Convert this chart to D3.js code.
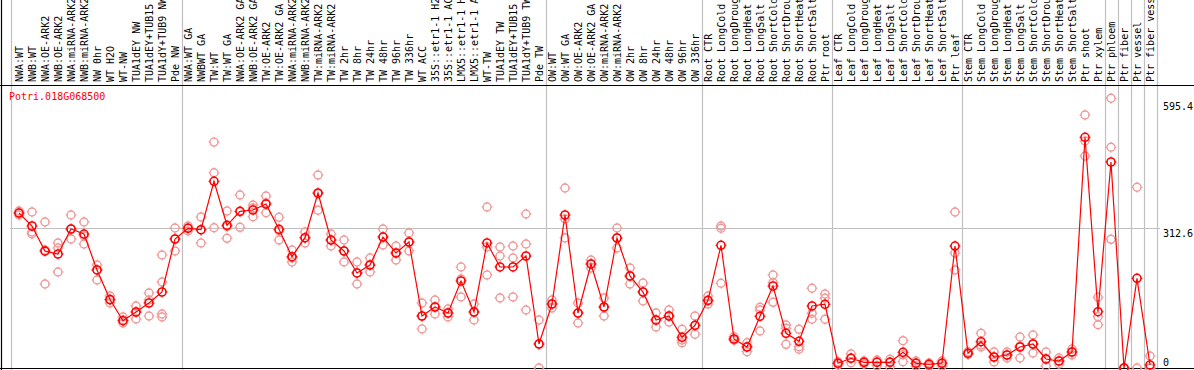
<!DOCTYPE html>
<html><head><meta charset="utf-8">
<script src="https://cdn.jsdelivr.net/npm/d3@7"></script>
<style>body{margin:0;background:#fff;overflow:hidden}svg{display:block}text{font-family:"DejaVu Sans Mono",monospace;font-size:10px}</style>
</head><body><svg id="c" width="1194" height="370"></svg>
<script>
const geneName = "Potri.018G068500";
const categories = ["NWA:WT","NWB:WT","NWA:OE-ARK2","NWB:OE-ARK2","NWA:miRNA-ARK2","NWB:miRNA-ARK2","NW 0hr","WT H2O","WT-NW","TUA1dEY NW","TUA1dEY+TUB15 NW","TUA1dY+TUB9 NW","Pde NW","NWA:WT GA","NWBWT GA","TW:WT","TW:WT GA","NWA:OE-ARK2 GA","NWB:OE-ARK2 GA","TW:OE-ARK2","TW:OE-ARK2 GA","NWA:miRNA-ARK2","NWB:miRNA-ARK2","TW:miRNA-ARK2","TW:miRNA-ARK2","TW 2hr","TW 8hr","TW 24hr","TW 48hr","TW 96hr","TW 336hr","WT ACC","35S::etr1-1 H2O","35S::etr1-1 ACC","LMX5::etr1-1 H2O","LMX5::etr1-1 ACC","WT-TW","TUA1dEY TW","TUA1dEY+TUB15 TW","TUA1dY+TUB9 TW","Pde TW","OW:WT","OW:WT GA","OW:OE-ARK2","OW:OE-ARK2 GA","OW:miRNA-ARK2","OW:miRNA-ARK2","OW 2hr","OW 8hr","OW 24hr","OW 48hr","OW 96hr","OW 336hr","Root CTR","Root LongCold","Root LongDrought","Root LongHeat","Root LongSalt","Root ShortCold","Root ShortDrought","Root ShortHeat","Root ShortSalt","Ptr root","Leaf CTR","Leaf LongCold","Leaf LongDrought","Leaf LongHeat","Leaf LongSalt","Leaf ShortCold","Leaf ShortDrought","Leaf ShortHeat","Leaf ShortSalt","Ptr leaf","Stem CTR","Stem LongCold","Stem LongDrought","Stem LongHeat","Stem LongSalt","Stem ShortCold","Stem ShortDrought","Stem ShortHeat","Stem ShortSalt","Ptr shoot","Ptr xylem","Ptr phloem","Ptr fiber","Ptr vessel","Ptr fiber vessel"];
const meanValues = [346.1,317.1,261,254.6,310.4,299.2,219,153.0,105.6,125.1,145.2,169.7,288.1,312.0,308.9,416.9,318.7,349.9,352.8,366.2,309.7,248.6,291.0,390.8,285.8,261.3,212.2,230.0,292.5,256.8,281.4,116.1,136.2,122.8,194.3,125.1,279.2,225.6,225.6,250.1,53.6,142.9,341.7,122.8,232.3,136.2,290.3,205.5,169.7,107.2,116.1,68.6,95.4,151.2,274.0,64.8,46.9,115.5,183.1,77.5,59.6,138.5,142.3,10.5,21.7,12.7,12.7,12.7,35.1,10.5,8.3,10.5,272.4,32.8,58.7,24.6,29.0,46.9,53.6,20.1,15.6,35.7,515.2,125.7,460.0,0,200.3,6.7];
const replicateValues = [[350.6,346.1,341.7],[348.4,303.7,299.2],[326.0,263.5,187.6],[279.2,268.0,214.4],[341.7,310.4,288.1],[326.0,294.8,276.9],[230.0,218.8,196.5],[160.8,151.8,145.2],[113.9,107.2,100.5],[138.5,125.1,109.4],[167.5,151.8,116.1],[252.4,192.1,120.6,113.9],[312.6,288.1,261.3],[317.1,312.6,305.9],[337.2,308.1,279.2],[504.5,436.0,313.3],[350.6,315.6,289.6],[386.3,349.1,314.2],[364.0,357.3,337.9],[384.1,368.5,346.8],[336.5,306.6,285.8],[263.5,245.6,236.7],[303.7,290.3,279.2],[431.0,389.3,352.2],[299.2,285.8,272.4],[285.8,261.3,236.7],[236.7,212.2,187.6],[245.6,230.0,214.4],[310.4,292.5,274.7],[272.4,256.8,241.2],[301.5,281.4,261.3],[145.2,116.1,87.1],[151.9,136.2,120.6],[131.8,122.8,113.9],[225.6,198.8,158.6],[142.9,125.1,107.2],[359.5,270.2,207.7],[270.2,250.1,156.3],[272.4,245.6,158.6],[343.9,276.9,129.5],[107.2,53.6,0],[151.9,142.9,134.0],[402.0,332.8,290.3],[145.2,122.8,100.5],[241.2,232.3,223.3],[156.3,136.2,116.1],[312.6,290.3,268.0],[223.3,205.5,187.6],[189.8,169.7,149.6],[122.8,107.2,91.6],[129.5,116.1,102.7],[86.4,62.5,56.5],[116.1,94.5,75.3],[160.8,149.6,142.9],[317.1,312.0,189.2],[69.9,62.5,62.5],[56.5,47.6,36.4],[135.6,129.5,82.6],[207.7,190.5,146.7],[96.0,88.7,52.9],[86.4,47.6,41.8],[178.0,122.2,108.8],[165.3,155.7,108.8],[14.1,11.2,6.7],[31.3,22.3,11.8],[15.6,12.7,8.9],[17.9,13.4,5.1],[19.4,13.4,2.9],[61.0,29.7,14.1],[15.6,11.2,4.5],[11.2,8.3,4.5],[15.6,11.2,4.5],[348.4,256.8,218.8],[36.4,31.3,30.6],[77.5,51.4,46.9],[35.7,24.6,13.4],[35.7,29.0,22.3],[69.2,49.1,22.3],[73.7,53.6,33.5],[35.7,20.1,4.5],[22.3,15.6,8.9],[42.4,35.7,29.0],[565.0,506.9,473.4],[157.9,114.6,96.7],[602.3,492.9,287.4],[0,0,0],[403.6,0],[26.8,0,0]];
const tickValues = [595.4, 312.6, 0];
const gridValues = [312.6];
// indices of categories after which a separator line is drawn
const separatorAfter = [12, 40, 52, 62, 72, 83, 84, 85, 86, 87];

const svg = d3.select("#c");
const idx = d3.range(categories.length);
const x = d3.scalePoint().domain(idx).range([19, 19 + 13*(categories.length-1)]);
const step = x.step();
const y = d3.scaleLinear().domain([0, 632]).range([368, 85]);

// vertical separators
const sepX = [x(0) - step/2 - 2].concat(separatorAfter.map(i => x(i) + step/2));
svg.append("g").selectAll("line").data(sepX).join("line")
  .attr("x1", d => Math.round(d)+0.5).attr("x2", d => Math.round(d)+0.5)
  .attr("y1", 0).attr("y2", 370).attr("stroke", "#c0c0c0").attr("stroke-width", 1.2);
// horizontal grid
svg.append("g").selectAll("line").data(gridValues).join("line")
  .attr("x1", 10).attr("x2", 1160).attr("y1", d => Math.round(y(d))+0.5).attr("y2", d => Math.round(y(d))+0.5)
  .attr("stroke", "#c0c0c0").attr("stroke-width", 1.2);
// frame
svg.append("line").attr("x1",0).attr("x2",1194).attr("y1",85.5).attr("y2",85.5).attr("stroke","#000").attr("stroke-width",1.2);
svg.append("line").attr("x1",0).attr("x2",1194).attr("y1",368.5).attr("y2",368.5).attr("stroke","#000").attr("stroke-width",1.2);
svg.append("line").attr("x1",1.5).attr("x2",1.5).attr("y1",0).attr("y2",370).attr("stroke","#000").attr("stroke-width",1.2);

// category labels
svg.append("g").selectAll("text").data(idx).join("text")
  .attr("transform", i => `translate(${x(i)+4},82) rotate(-90)`)
  .attr("fill", "#000").text(i => categories[i]);

// right axis labels
svg.append("g").selectAll("text").data(tickValues).join("text")
  .attr("x", 1163).attr("y", d => Math.min(y(d)+9, 366)).attr("fill","#000").text(d => d);

// title
svg.append("text").attr("x", 9).attr("y", 100).attr("fill", "#ff0000").text(geneName);

function marker(g, color, sw) {
  g.append("circle").attr("r", 4).attr("fill", "none").attr("stroke", color).attr("stroke-width", sw);
  [[0,-4,0,-5.5],[0,4,0,5.5],[-4,0,-5.5,0],[4,0,5.5,0]].forEach(s =>
    g.append("line").attr("x1", s[0]).attr("y1", s[1]).attr("x2", s[2]).attr("y2", s[3]).attr("stroke", color).attr("stroke-width", 1));
}

// replicates
const reps = [];
replicateValues.forEach((arr, i) => arr.forEach(v => reps.push({i, v})));
svg.append("g").selectAll("g").data(reps).join("g")
  .attr("transform", d => `translate(${x(d.i)},${y(d.v)})`)
  .each(function(){ marker(d3.select(this), "#f09898", 1.4); });

// mean line
const pts = idx.map(i => ({i, v: meanValues[i]}));
svg.append("path").datum(pts)
  .attr("d", d3.line().x(d => x(d.i)).y(d => y(d.v)))
  .attr("fill", "none").attr("stroke", "#ff0000").attr("stroke-width", 1.2);
svg.append("g").selectAll("g").data(pts).join("g")
  .attr("transform", d => `translate(${x(d.i)},${y(d.v)})`)
  .each(function(){ marker(d3.select(this), "#ff0000", 1.6); });
</script></body></html>
